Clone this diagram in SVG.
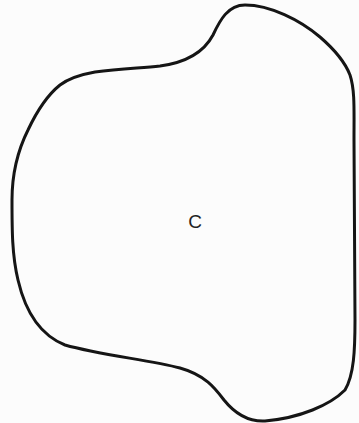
<svg xmlns="http://www.w3.org/2000/svg" width="359" height="423" viewBox="0 0 359 423">
<style>
.outline{fill:none;stroke:#151515;stroke-width:3;stroke-linejoin:round}
.lbl{font-family:"Liberation Sans",Arial,sans-serif;font-size:19px;fill:#222;text-anchor:middle}
</style>
<rect width="359" height="423" fill="#fcfcfc"/>
<g id="C">
<path class="outline" d="M 245,5 C 270,5 300,20 320,37 C 335,50 345,62 350,75 C 355,90 354,110 354,140 L 355,320 C 355,350 354,375 345,390 C 330,405 300,418 265,421 C 245,422 232,410 224,400 C 215,388 205,375 180,368 C 150,360 100,355 65,345 C 40,335 25,310 18,280 C 12,255 12,230 12,200 C 12,175 18,150 28,130 C 36,113 45,97 60,85 C 68,79 78,75 95,72 C 120,69 140,68 160,66 C 190,62 205,50 213,35 C 220,20 228,5 245,5 Z"/>
<text class="lbl" x="195" y="228">C</text>
</g>
<g id="connectors"/>
</svg>
